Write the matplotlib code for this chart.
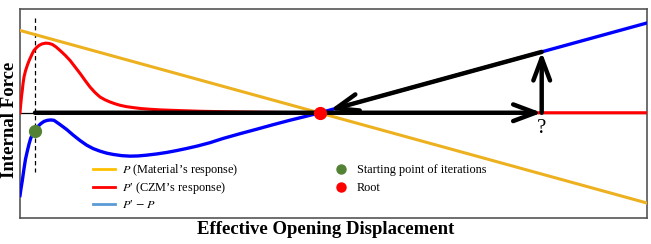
import matplotlib
matplotlib.use("Agg")
import matplotlib.pyplot as plt
from matplotlib.lines import Line2D

plt.rcParams['font.family'] = ['Liberation Serif', 'DejaVu Serif']
plt.rcParams['mathtext.fontset'] = 'stix'

# ---- data (arbitrary units) ----
p_x = [0, 627]
p_y = [82.5, -90.5]

pp_x = [0, 0.5, 1.0, 1.6, 2.3, 3, 4, 5.5, 7.3, 9, 10.7, 12.3, 14, 16.5, 19, 22,
        25.7, 29, 32.3, 36, 40, 45, 50, 55, 60, 65, 70, 75, 80, 85, 90, 95, 100,
        106, 113, 121, 130, 140, 150, 165, 180, 200, 220, 260, 300, 627]
pp_y = [0, 6, 11, 17, 22.5, 29, 35.8, 42, 47.5, 52, 55.8, 59.3, 62.5, 65.3, 67.5,
        69, 69.8, 69.5, 68.5, 66, 62.5, 57.8, 52.5, 46, 39.5, 32.5, 25.8, 20.3,
        15.8, 13, 10.8, 9, 7.5, 6.2, 5.2, 4.2, 3.5, 2.9, 2.5, 2, 1.5, 1.1, 0.8,
        0.3, 0, 0]

d_x = [0, 1, 2.3, 4, 5.5, 7.3, 9, 10.7, 12.7, 14.7, 17.5, 20.7, 24, 27.3, 30.7,
       34, 40, 46.7, 53.3, 60, 66.7, 73.3, 80, 86.7, 93.3, 101.7, 110, 118, 126.7,
       136.7, 146.7, 156.7, 166.7, 178, 190, 203, 220, 236.7, 253, 270, 285, 300, 627]
d_y = [-83, -76, -68, -56, -46.5, -38.5, -31.5, -25.5, -21.5, -18.5, -14.2, -11,
       -8.7, -7.6, -7.2, -7.6, -11.8, -16.8, -22.5, -27.8, -32.5, -36, -38.5,
       -40.5, -41.8, -43, -43.5, -43.3, -42.5, -41.3, -39.8, -37.9, -35.8, -33.2,
       -30, -25.8, -21, -16.5, -12, -7.5, -3.8, 0, 90]

start_pt = (14.7, -18.5)
root_pt = (300, 0)
guess_x = 521.7
guess_y = 61
arrow_tip = (310, 2.75)
iter_start_x = 15

curve_labels = [r"$P$ (Material’s response)", r"$P$′ (CZM’s response)",
                r"$P$′ $-$ $P$"]
point_labels = ["Starting point of iterations", "Root"]

C_ORANGE = '#EDB120'
C_RED = '#FF0000'
C_BLUE = '#0000FF'
C_GREEN = '#548235'

fig = plt.figure(figsize=(6.51, 2.44), dpi=100)
ax = fig.add_axes([20/651, (244-217.5)/244, 627/651, 208.5/244])
ax.set_xlim(0, 627)
ax.set_ylim(-105, 104)
ax.set_xticks([])
ax.set_yticks([])
for s in ax.spines.values():
    s.set_color('#555555')
    s.set_linewidth(1.2)

ax.axhline(0, color='black', lw=0.9, zorder=1)
ax.plot([iter_start_x, iter_start_x], [94.5, -59.5], color='black', lw=0.9,
        dashes=(3.5, 2.5), zorder=2)

ax.plot(p_x, p_y, color=C_ORANGE, lw=2.2, zorder=3)
ax.plot(pp_x, pp_y, color=C_RED, lw=2.2, zorder=3, solid_joinstyle='round')
ax.plot(d_x, d_y, color=C_BLUE, lw=2.4, zorder=4, solid_joinstyle='round')

head = '->, head_length=1.6, head_width=0.6'
ap = dict(arrowstyle=head, lw=3.2, color='black', shrinkA=0, shrinkB=0,
          mutation_scale=10)
ax.annotate('', xy=(guess_x, 0), xytext=(iter_start_x, 0), arrowprops=ap, zorder=5)
ax.annotate('', xy=(guess_x, guess_y), xytext=(guess_x, 0), arrowprops=ap, zorder=5)
ax.annotate('', xy=arrow_tip, xytext=(guess_x, guess_y), arrowprops=ap, zorder=5)

ax.plot(*start_pt, 'o', color=C_GREEN, ms=8.5, zorder=6)
ax.plot(*root_pt, 'o', color=C_RED, ms=8.5, zorder=6)

ax.text(guess_x, -15.5, '?', fontsize=15, ha='center', va='center')

curve_handles = [
    Line2D([], [], color='#FFC000', lw=2),
    Line2D([], [], color=C_RED, lw=2),
    Line2D([], [], color='#5B9BD5', lw=2),
]
point_handles = [
    Line2D([], [], color=C_GREEN, marker='o', ls='none', ms=6.5),
    Line2D([], [], color=C_RED, marker='o', ls='none', ms=6.5),
]
common = dict(frameon=False, fontsize=8.8, loc='upper left', borderaxespad=0,
              borderpad=0, handlelength=1.8, handletextpad=0.6, labelspacing=0.2)
leg1 = ax.legend(curve_handles, curve_labels,
                 bbox_to_anchor=((93-20)/627, (217.5-162)/208.5), **common)
ax.add_artist(leg1)
common2 = dict(common)
common2['labelspacing'] = 0.48
common2['handletextpad'] = 0.4
ax.legend(point_handles, point_labels,
          bbox_to_anchor=((330-20)/627, (217.5-164)/208.5), **common2)

fig.text(10/651, 1-120/244, 'Internal Force', rotation=90, ha='center',
         va='center', fontsize=13.5, fontweight='bold')
fig.text(326/651, 1-229/244, 'Effective Opening Displacement', ha='center',
         va='center', fontsize=13.5, fontweight='bold')

fig.savefig('out.png', dpi=100)
